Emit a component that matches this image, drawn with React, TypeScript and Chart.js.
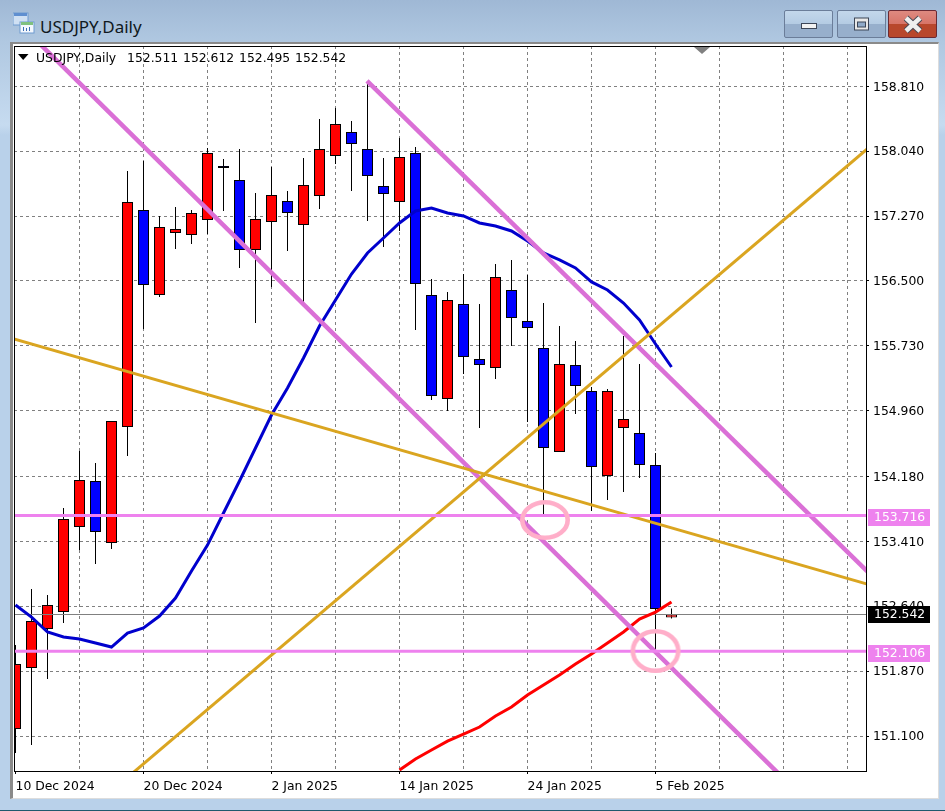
import React, { useEffect, useRef } from "react";
import { Chart, registerables } from "chart.js";

Chart.register(...registerables);

const titleText = "USDJPY,Daily";
const legendQuotes = ["152.511", "152.612", "152.495", "152.542"];
const dateLabels: Record<number, string> = {
  0: "10 Dec 2024",
  8: "20 Dec 2024",
  16: "2 Jan 2025",
  24: "14 Jan 2025",
  32: "24 Jan 2025",
  40: "5 Feb 2025",
};
const xTicks = [0, 4, 8, 12, 16, 20, 24, 28, 32, 36, 40, 44, 48, 52];
const yTicks = [158.81, 158.04, 157.27, 156.5, 155.73, 154.96, 154.18, 153.41, 152.64, 151.87, 151.1];

const opens = [151.183, 151.907, 152.37, 152.571, 153.58, 154.126, 153.39, 154.767, 157.342, 156.333, 157.069, 157.045, 157.223, 157.865, 157.698, 156.867, 157.2, 157.449, 157.164, 157.508, 157.983, 158.268, 158.066, 157.627, 157.437, 158.018, 156.333, 155.099, 156.226, 155.574, 155.467, 156.393, 156.025, 155.704, 154.47, 155.503, 155.194, 154.185, 154.755, 154.696, 154.316, 152.505];
const highs = [152.18, 152.844, 152.773, 153.806, 154.482, 154.34, 154.838, 157.805, 157.923, 157.271, 157.378, 157.342, 158.078, 157.947, 158.066, 157.544, 157.852, 157.567, 157.959, 158.422, 158.552, 158.398, 158.873, 157.959, 158.196, 158.09, 156.523, 156.369, 156.582, 156.226, 156.701, 156.749, 156.571, 156.238, 155.965, 155.787, 155.241, 155.218, 155.847, 155.514, 154.458, 152.612];
const lows = [150.898, 150.993, 151.776, 152.441, 153.307, 153.141, 153.319, 154.423, 155.93, 156.31, 156.879, 156.938, 157.057, 157.33, 156.654, 156.001, 156.428, 156.855, 156.238, 157.354, 157.888, 157.567, 157.211, 156.903, 157.093, 155.918, 155.087, 154.957, 155.396, 154.755, 155.336, 155.728, 154.826, 153.722, 154.47, 154.921, 153.77, 153.9, 153.995, 154.162, 152.12, 152.495];
const closes = [151.954, 152.465, 152.654, 153.675, 154.138, 153.521, 154.838, 157.437, 156.452, 157.14, 157.116, 157.306, 158.018, 157.84, 156.867, 157.235, 157.52, 157.306, 157.639, 158.066, 158.362, 158.125, 157.745, 157.532, 157.971, 156.464, 155.135, 156.274, 155.597, 155.503, 156.547, 156.06, 155.942, 154.518, 155.514, 155.253, 154.292, 155.194, 154.862, 154.316, 152.607, 152.542];

const blueAverage = [152.654, 152.512, 152.334, 152.275, 152.251, 152.203, 152.156, 152.322, 152.382, 152.524, 152.738, 153.058, 153.366, 153.746, 154.126, 154.518, 154.909, 155.23, 155.586, 155.965, 156.274, 156.582, 156.832, 157.01, 157.188, 157.33, 157.366, 157.306, 157.271, 157.188, 157.152, 157.093, 156.974, 156.832, 156.749, 156.654, 156.488, 156.393, 156.238, 156.037, 155.752, 155.479];
const redAverageStart = 24;
const redAverage = [150.696, 150.827, 150.934, 151.04, 151.124, 151.207, 151.337, 151.444, 151.586, 151.705, 151.824, 151.954, 152.073, 152.203, 152.334, 152.488, 152.571, 152.69];

const lowerChannel = [{ x: 1.53, y: 159.312 }, { x: 47.656, y: 150.661 }];
const upperChannel = [{ x: 21.969, y: 158.873 }, { x: 53.28, y: 153.046 }];
const goldFalling = [{ x: -0.1, y: 155.811 }, { x: 53.2, y: 152.904 }];
const goldRising = [{ x: 7.344, y: 150.664 }, { x: 53.281, y: 158.074 }];
const supportLevel = 152.106;
const resistanceLevel = 153.716;
const lastPrice = 152.542;
const circleMarkers = [
  { x: 33.09, y: 153.663 },
  { x: 40.0, y: 152.109 },
];

const X_MIN = -0.09375;
const X_MAX = 53.156;
const Y_MIN = 150.685;
const Y_MAX = 159.288;
const FONT = "12.4px 'DejaVu Sans'";

function ellipse(rx: number, ry: number) {
  const c = document.createElement("canvas");
  c.width = 60;
  c.height = 56;
  const g = c.getContext("2d")!;
  g.strokeStyle = "#FFAEC9";
  g.lineWidth = 4.6;
  g.beginPath();
  g.ellipse(30, 28, rx, ry, 0, 0, Math.PI * 2);
  g.stroke();
  return c;
}

const chartDecor = {
  id: "chartDecor",
  afterDatasetsDraw(chart: any) {
    const { ctx, chartArea: a } = chart;
    ctx.save();
    ctx.strokeStyle = "#000";
    ctx.lineWidth = 1;
    ctx.strokeRect(a.left + 0.5, a.top + 0.5, a.right - a.left, a.bottom - a.top);
    // chart-shift marker
    ctx.fillStyle = "#808080";
    ctx.beginPath();
    ctx.moveTo(694, a.top + 1);
    ctx.lineTo(710, a.top + 1);
    ctx.lineTo(702, a.top + 8);
    ctx.closePath();
    ctx.fill();
    // info triangle and legend line
    ctx.fillStyle = "#000";
    ctx.beginPath();
    ctx.moveTo(18, 54);
    ctx.lineTo(28.5, 54);
    ctx.lineTo(23.2, 60);
    ctx.closePath();
    ctx.fill();
    ctx.font = FONT;
    ctx.textBaseline = "middle";
    ctx.textAlign = "left";
    ctx.fillText(titleText, 36, 58.5);
    legendQuotes.forEach((q, i) => ctx.fillText(q, 127 + i * 56, 58.5));
    ctx.restore();
  },
  afterDraw(chart: any) {
    const { ctx } = chart;
    const y = chart.scales.y;
    const tags = [
      { value: lastPrice, bg: "#000000", shift: 0 },
      { value: supportLevel, bg: "#EE82EE", shift: 2 },
      { value: resistanceLevel, bg: "#EE82EE", shift: 2 },
    ];
    ctx.save();
    ctx.font = FONT;
    ctx.textBaseline = "middle";
    ctx.textAlign = "left";
    tags.forEach((t) => {
      const cy = y.getPixelForValue(t.value) + t.shift;
      ctx.fillStyle = t.bg;
      ctx.fillRect(868, Math.round(cy - 8.5), 62, 17);
      ctx.fillStyle = "#fff";
      ctx.fillText(t.value.toFixed(3), 874, cy + 0.5);
    });
    ctx.restore();
  },
};

export default function App() {
  const ref = useRef<HTMLCanvasElement>(null);

  useEffect(() => {
    const wicks = lows.map((l, i) => ({ x: i, y: [l, highs[i]] }));
    const bodies = opens.map((o, i) => ({ x: i, y: [o, closes[i]] }));
    const bodyColors = opens.map((o, i) => (closes[i] >= o ? "#FF0000" : "#0000FF"));
    const line = (data: any[], color: string, width: number, order: number) => ({
      type: "line" as const,
      data,
      borderColor: color,
      borderWidth: width,
      pointRadius: 0,
      tension: 0,
      clip: 0,
      order,
    });
    const level = (v: number) => [{ x: X_MIN, y: v }, { x: X_MAX, y: v }];

    const chart = new Chart(ref.current!, {
      type: "bar",
      data: {
        datasets: [
          {
            type: "bar",
            data: wicks,
            backgroundColor: "#000",
            borderWidth: 0,
            barThickness: 1,
            inflateAmount: 0,
            grouped: false,
            order: 100,
          },
          {
            type: "bar",
            data: bodies,
            backgroundColor: bodyColors,
            borderColor: "#000",
            borderWidth: 1,
            borderSkipped: false,
            barThickness: 11,
            inflateAmount: 0,
            grouped: false,
            order: 90,
          },
          line(level(lastPrice), "#808080", 1, 85),
          line(blueAverage.map((v, i) => ({ x: i, y: v })), "#0000CD", 3, 80),
          line(redAverage.map((v, i) => ({ x: redAverageStart + i, y: v })), "#FF0000", 3, 79),
          line(lowerChannel, "#DA70D6", 4.5, 70),
          line(upperChannel, "#DA70D6", 4.5, 69),
          line(goldFalling, "#DAA520", 3, 60),
          line(goldRising, "#DAA520", 3, 59),
          line(level(supportLevel), "#EE82EE", 3, 50),
          line(level(resistanceLevel), "#EE82EE", 3, 49),
          {
            type: "scatter",
            data: [circleMarkers[0]],
            pointStyle: ellipse(22.7, 17.7),
            pointRadius: 1,
            showLine: false,
            clip: 0,
            order: 41,
          },
          {
            type: "scatter",
            data: [circleMarkers[1]],
            pointStyle: ellipse(22.7, 19.7),
            pointRadius: 1,
            showLine: false,
            clip: 0,
            order: 40,
          },
        ] as any,
      },
      options: {
        responsive: false,
        animation: false,
        events: [],
        layout: { autoPadding: false, padding: { left: 14, top: 46, right: 0, bottom: 0 } },
        plugins: { legend: { display: false }, tooltip: { enabled: false }, title: { display: false } },
        scales: {
          x: {
            type: "linear",
            min: X_MIN,
            max: X_MAX,
            offset: false,
            afterFit: (s: any) => {
              s.height = 40;
              s.paddingLeft = 0;
              s.paddingRight = 0;
            },
            afterBuildTicks: (s: any) => {
              s.ticks = xTicks.map((value) => ({ value }));
            },
            grid: {
              offset: false,
              lineWidth: 1,
              tickLength: 3,
              color: (c: any) => (c.tick && c.tick.value === 0 ? "rgba(0,0,0,0)" : "#808080"),
              tickColor: (c: any) => (c.tick && dateLabels[c.tick.value] ? "#000" : "rgba(0,0,0,0)"),
            },
            border: { display: false, dash: [3, 3] },
            ticks: {
              autoSkip: false,
              maxRotation: 0,
              minRotation: 0,
              align: "start",
              padding: 5,
              color: "#000",
              font: { family: "'DejaVu Sans'", size: 12.4 },
              callback: (v: any) => dateLabels[v] ?? "",
            },
          },
          y: {
            type: "linear",
            position: "right",
            min: Y_MIN,
            max: Y_MAX,
            afterFit: (s: any) => {
              s.width = 79;
              s.paddingTop = 0;
              s.paddingBottom = 0;
            },
            afterBuildTicks: (s: any) => {
              s.ticks = yTicks.map((value) => ({ value }));
            },
            grid: {
              lineWidth: 1,
              tickLength: 3,
              color: "#808080",
              tickColor: "#000",
            },
            border: { display: false, dash: [3, 3] },
            ticks: {
              autoSkip: false,
              padding: 4,
              labelOffset: 1,
              color: "#000",
              font: { family: "'DejaVu Sans'", size: 12.4 },
              callback: (v: any) => Number(v).toFixed(3),
            },
          },
        },
      } as any,
      plugins: [chartDecor],
    });
    return () => chart.destroy();
  }, []);

  const btn = (left: number, top1: string, top2: string, bot: string, edge: string) => ({
    position: "absolute" as const,
    left,
    top: 10,
    width: 49,
    height: 28,
    boxSizing: "border-box" as const,
    border: `1px solid ${edge}`,
    borderRadius: 2,
    background: `linear-gradient(${top1} 0%, ${top2} 50%, ${bot} 50%, ${bot} 100%)`,
  });

  return (
    <div
      style={{
        position: "absolute",
        left: 0,
        top: 0,
        width: 945,
        height: 811,
        overflow: "hidden",
        background: "linear-gradient(#9FB8D5 0px, #B0C8E1 42px, #C6DBF0 125px, #B9D1EA 135px, #B9D1EA 100%)",
      }}
    >
      <div style={{ position: "absolute", left: 0, top: 810, width: 945, height: 1, background: "#1F5A6E" }} />
      <div
        style={{
          position: "absolute",
          left: 10,
          top: 42,
          width: 929,
          height: 757,
          boxSizing: "border-box",
          background: "#fff",
          borderLeft: "3px solid #8A8A8A",
          borderTop: "2px solid #8A8A8A",
          borderRight: "1px solid #DDD",
          borderBottom: "1px solid #DDD",
        }}
      />
      <svg style={{ position: "absolute", left: 13, top: 12 }} width={22} height={22}>
        <rect x={0} y={1} width={15} height={12} fill="#CFE0F3" stroke="#6F9BD0" />
        <rect x={1} y={1} width={13} height={3} fill="#5F8FD0" />
        <rect x={7} y={10} width={14} height={11} fill="#F4F8FD" stroke="#6F9BD0" />
        <rect x={8} y={10} width={12} height={3} fill="#7FC07F" />
        <rect x={10} y={15} width={1} height={4} fill="#3C6FB5" />
        <rect x={13} y={16} width={1} height={3} fill="#3C6FB5" />
        <rect x={16} y={15} width={1} height={4} fill="#3C6FB5" />
      </svg>
      <div
        style={{
          position: "absolute",
          left: 40,
          top: 14,
          font: "17px 'Noto Sans'",
          lineHeight: "26px",
          color: "#101820",
        }}
      >
        {titleText}
      </div>
      <div style={btn(784, "#C3D7EB", "#B4CBE3", "#97AFCC", "#6B7D99")}>
        <svg style={{ position: "absolute", left: 14, top: 10 }} width={20} height={10}>
          <rect x={2.5} y={2.5} width={15} height={5} fill="#F2F2F2" stroke="#3D4657" />
        </svg>
      </div>
      <div style={btn(837, "#C3D7EB", "#B4CBE3", "#97AFCC", "#6B7D99")}>
        <svg style={{ position: "absolute", left: 14, top: 5 }} width={20} height={18}>
          <rect x={2.5} y={2} width={14} height={12} fill="#E8E8E8" stroke="#3D4657" />
          <rect x={5.5} y={6} width={8} height={5} fill="#8FA9C8" stroke="#3D4657" />
        </svg>
      </div>
      <div style={btn(888, "#DE8A80", "#D77468", "#B8472C", "#6A2A33")}>
        <svg style={{ position: "absolute", left: 14, top: 4 }} width={20} height={20}>
          <path d="M3 3 L17 16 M17 3 L3 16" stroke="#4A4A55" strokeWidth={6.5} />
          <path d="M3 3 L17 16 M17 3 L3 16" stroke="#EFEFEF" strokeWidth={4.5} />
        </svg>
      </div>
      <canvas
        ref={ref}
        width={945}
        height={811}
        style={{ position: "absolute", left: 0, top: 0, width: 945, height: 811, display: "block" }}
      />
    </div>
  );
}
